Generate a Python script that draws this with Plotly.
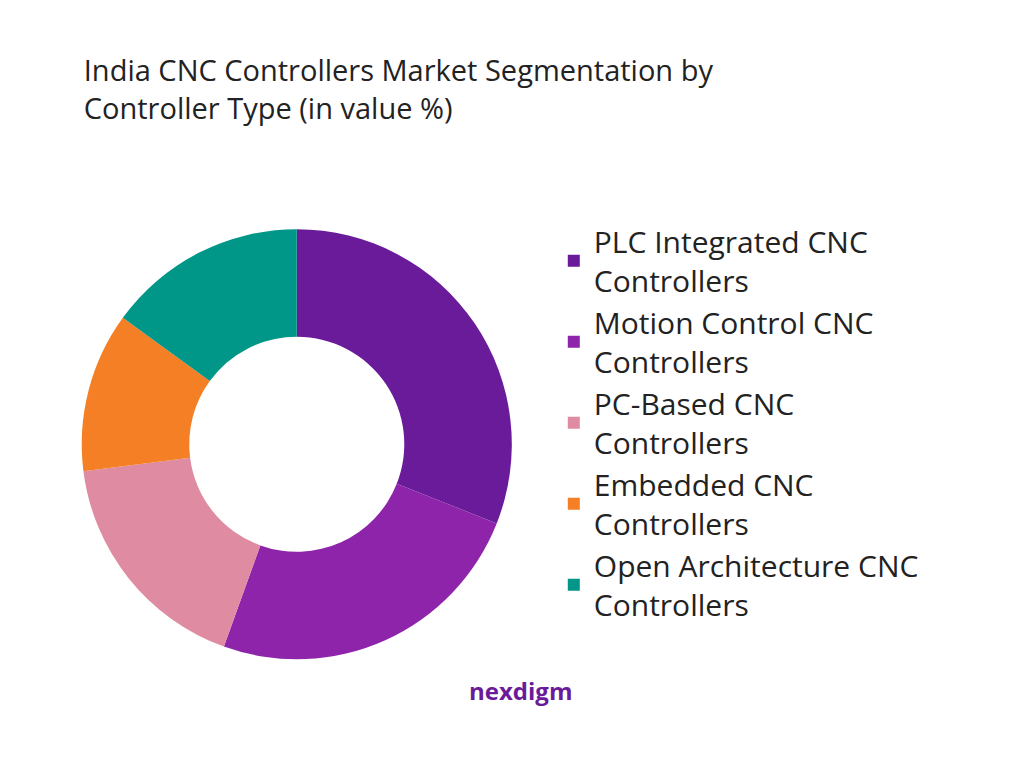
import plotly.graph_objects as go

labels = ["PLC Integrated CNC<br>Controllers", "Motion Control CNC<br>Controllers",
          "PC-Based CNC<br>Controllers", "Embedded CNC<br>Controllers",
          "Open Architecture CNC<br>Controllers"]
values = [31, 24.5, 17.5, 12, 15]
colors = ["#6A1B9A", "#8E24AA", "#DF8BA1", "#F47F24", "#009688"]

fig = go.Figure(go.Pie(
    labels=labels, values=values, hole=0.5, sort=False, direction="clockwise",
    rotation=0, marker=dict(colors=colors), textinfo="none", hoverinfo="label+percent",
    domain=dict(x=[0.072, 0.492], y=[0.152, 0.712])))

fig.update_layout(
    width=1024, height=768, paper_bgcolor="white", plot_bgcolor="white",
    margin=dict(l=0, r=0, t=0, b=0),
    font=dict(family="Open Sans, sans-serif", color="#222"),
    title=dict(text="India CNC Controllers Market Segmentation by<br>Controller Type (in value %)",
               x=0.074, y=0.905, xanchor="left", yanchor="top",
               font=dict(size=29, color="#222")),
    legend=dict(x=0.533, y=0.73, xanchor="left", yanchor="top",
                font=dict(size=30, color="#222"), itemsizing="constant",
                itemwidth=30),
    annotations=[dict(text="<b>nexdigm</b>", x=0.5, y=0.087, xref="paper", yref="paper",
                      showarrow=False, font=dict(size=24, color="#6A1B9A"))],
)
fig.write_html("out.html")
